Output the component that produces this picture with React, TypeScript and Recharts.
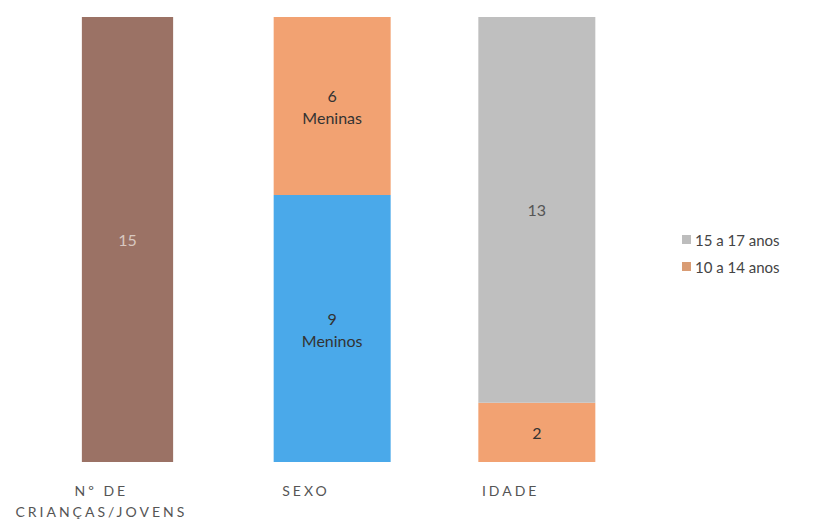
import { BarChart, Bar, XAxis, YAxis, Legend, LabelList, Rectangle } from 'recharts';

// Categories and per-series values (null where a series has no bar)
const categories = ['Nº DE|CRIANÇAS/JOVENS', 'SEXO', 'IDADE'];
const totalKids = [15, null, null];
const meninos = [null, 9, null];
const meninas = [null, 6, null];
const age10to14 = [null, null, 2];
const age15to17 = [null, null, 13];

const legendItems = [
  { label: '15 a 17 anos', color: '#bdbdbd' },
  { label: '10 a 14 anos', color: '#d99c74' },
];

const data = categories.map((name, i) => ({
  name,
  total: totalKids[i],
  meninos: meninos[i],
  meninas: meninas[i],
  age10to14: age10to14[i],
  age15to17: age15to17[i],
}));

const FONT = 'Lato, "Open Sans", sans-serif';

// Renders the value in the middle of a segment, with an optional second line
const makeLabel = (subtitle: string | null, color: string) => (props: any) => {
  const { x, y, width, height, value } = props;
  if (value == null || value === 0) return null;
  const cx = x + width / 2;
  const cy = y + height / 2;
  if (!subtitle) {
    return (
      <text x={cx} y={cy} textAnchor="middle" dominantBaseline="central" fill={color} fontSize={16} fontFamily={FONT}>
        {value}
      </text>
    );
  }
  return (
    <text x={cx} y={cy} textAnchor="middle" fill={color} fontSize={16} fontFamily={FONT}>
      <tspan x={cx} dy={-4}>{value}</tspan>
      <tspan x={cx} dy={22}>{subtitle}</tspan>
    </text>
  );
};

// The total column is drawn a bit narrower than the stacked ones
const NarrowBar = (props: any) => {
  const inset = props.width * 0.11;
  return <Rectangle {...props} x={props.x + inset} width={props.width - inset * 2} />;
};

const CategoryTick = (props: any) => {
  const { x, y, payload } = props;
  const lines = String(payload.value).split('|');
  const tx = x - 26;
  return (
    <text x={tx} y={y} textAnchor="middle" fill="#555" fontSize={14} fontFamily={FONT} letterSpacing={3}>
      {lines.map((line, i) => (
        <tspan key={i} x={tx} dy={i === 0 ? 26 : 21}>
          {line}
        </tspan>
      ))}
    </text>
  );
};

const AgeLegend = () => (
  <div style={{ fontFamily: FONT, fontSize: 15, color: '#444' }}>
    {legendItems.map((item) => (
      <div key={item.label} style={{ display: 'flex', alignItems: 'center', height: 27 }}>
        <span style={{ width: 9, height: 9, background: item.color, marginRight: 4, display: 'inline-block' }} />
        {item.label}
      </div>
    ))}
  </div>
);

export default function App() {
  return (
    <div style={{ position: 'absolute', left: 0, top: 0, background: '#fff' }}>
      <BarChart width={825} height={526} data={data} margin={{ top: 17, right: 186, left: 25, bottom: 4 }} barSize={117}>
        <XAxis dataKey="name" axisLine={false} tickLine={false} height={60} interval={0} tick={<CategoryTick />} />
        <YAxis hide domain={[0, 15]} />
        <Legend
          layout="horizontal"
          align="center"
          verticalAlign="middle"
          content={<AgeLegend />}
          wrapperStyle={{ position: 'absolute', left: 682, top: 226, width: 143 }}
        />
        <Bar dataKey="total" stackId="a" fill="#9b7265" isAnimationActive={false} legendType="none" shape={<NarrowBar />}>
          <LabelList dataKey="total" content={makeLabel(null, '#d8c8c0')} />
        </Bar>
        <Bar dataKey="meninos" stackId="a" fill="#4aa9ea" isAnimationActive={false} legendType="none">
          <LabelList dataKey="meninos" content={makeLabel('Meninos', '#333')} />
        </Bar>
        <Bar dataKey="meninas" stackId="a" fill="#f2a272" isAnimationActive={false} legendType="none">
          <LabelList dataKey="meninas" content={makeLabel('Meninas', '#333')} />
        </Bar>
        <Bar dataKey="age10to14" stackId="a" fill="#f2a272" isAnimationActive={false}>
          <LabelList dataKey="age10to14" content={makeLabel(null, '#333')} />
        </Bar>
        <Bar dataKey="age15to17" stackId="a" fill="#bfbfbf" isAnimationActive={false}>
          <LabelList dataKey="age15to17" content={makeLabel(null, '#555')} />
        </Bar>
      </BarChart>
    </div>
  );
}
